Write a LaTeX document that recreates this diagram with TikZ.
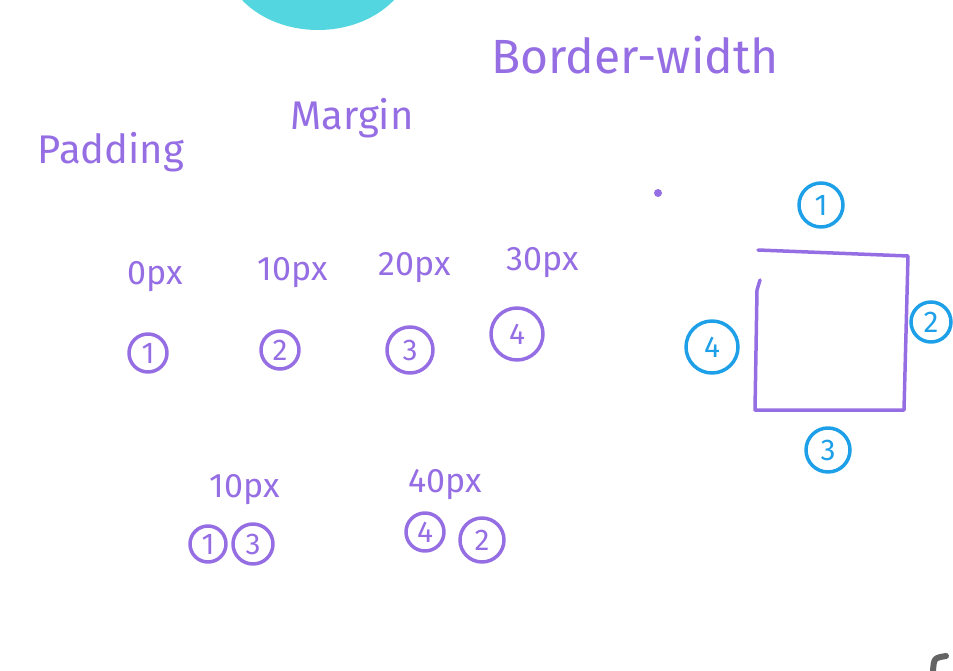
\documentclass[tikz,border=0pt]{standalone}
\usepackage{fontspec}
\setmainfont{Fira Sans}
\usetikzlibrary{positioning}
\definecolor{penpurple}{RGB}{150,110,228}
\definecolor{penblue}{RGB}{30,160,232}
\definecolor{blobteal}{RGB}{84,214,224}
\definecolor{pengray}{RGB}{100,100,100}

\begin{document}
\begin{tikzpicture}[x=1pt, y=-1pt, line width=3.5pt, line cap=round, line join=round,
    word/.style={text=penpurple, font=\fontsize{40}{40}\selectfont, inner sep=0pt},
    size/.style={text=penpurple, font=\fontsize{34}{34}\selectfont, inner sep=0pt},
    num/.style={circle, draw=penpurple, text=penpurple, minimum size=38pt, inner sep=0pt, font=\fontsize{30}{30}\selectfont},
    side/.style={num, draw=penblue, text=penblue, minimum size=44pt}]
    \useasboundingbox (0,0) rectangle (953,671);

    % blob at the top
    \fill[blobteal] (318,-45) ellipse [x radius=95, y radius=75];

    % headings
    \node[word] (padding) at (111,152) {Padding};
    \node[word] (margin) at (352,118) {Margin};
    \node[word, font=\fontsize{48}{48}\selectfont] (border) at (635,55) {Border-width};
    \fill[penpurple] (658,193) circle (4);

    % values
    \node[size] (zero) at (155,277) {0px};
    \node[size] (ten) at (293,273) {10px};
    \node[size] (twenty) at (415,268) {20px};
    \node[size] (thirty) at (543,263) {30px};
    \node[num] (p1) at (148,353) {1};
    \node[num] (p2) at (280,350) {2};
    \node[num, minimum size=46pt] (p3) at (410,350) {3};
    \node[num, minimum size=52pt] (p4) at (517,334) {4};

    % the box
    \draw[penpurple] (758,250) -- (908,256) -- (904,410) -- (755,410) -- (757,290) -- (760,280);
    \node[side] (b1) at (821,205) {1};
    \node[side, minimum size=40pt] (b2) at (931,322) {2};
    \node[side] (b3) at (828,450) {3};
    \node[side, minimum size=52pt] (b4) at (712,347) {4};

    % shorthands
    \node[size] (tenb) at (245,490) {10px};
    \node[num, minimum size=36pt] (s1) at (208,544) {1};
    \node[num, minimum size=40pt] (s3) at (253,544) {3};
    \node[size] (forty) at (445,485) {40px};
    \node[num] (s4) at (425,532) {4};
    \node[num, minimum size=44pt] (s2) at (482,540) {2};

    % stroke in the corner
    \draw[pengray, line width=6pt] (933,671) .. controls (934,658) .. (946,656);
\end{tikzpicture}
\end{document}
